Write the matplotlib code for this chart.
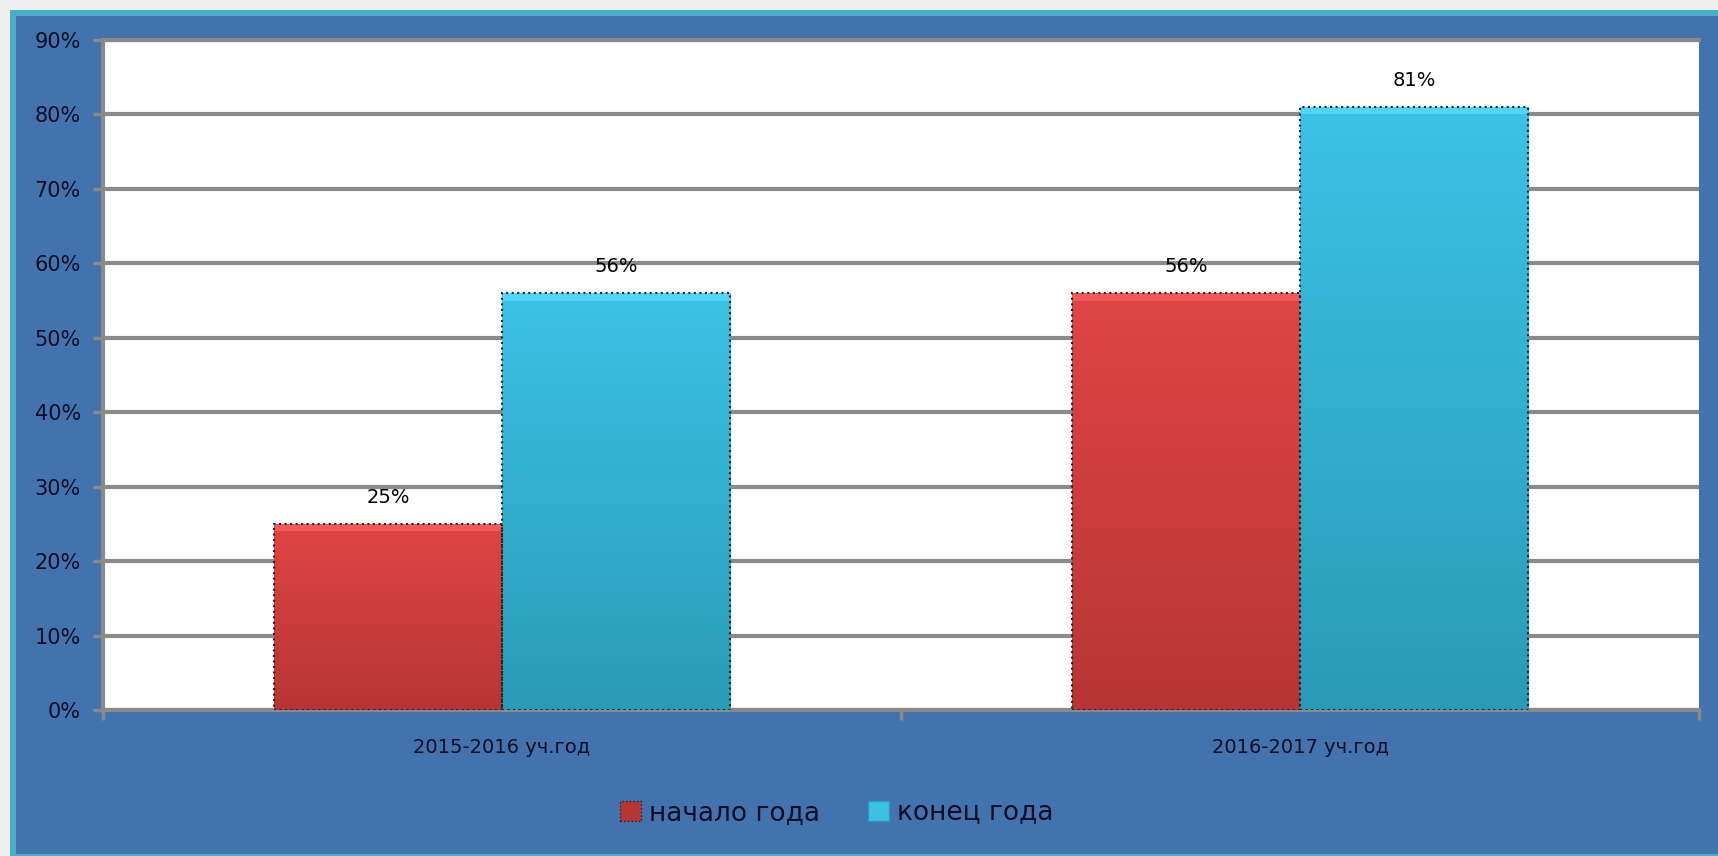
import matplotlib.pyplot as plt
import matplotlib.patches as mpatches
import matplotlib.colors as mcolors
import numpy as np

# --- data ---
categories = ['2015-2016 уч.год', '2016-2017 уч.год']
series_names = ['начало года', 'конец года']
start_year = [25, 56]
end_year = [56, 81]
y_ticks = [0, 10, 20, 30, 40, 50, 60, 70, 80, 90]

# colours (top, bottom) for the gradient fill
red_top, red_bot = '#e04544', '#b73535'
cyan_top, cyan_bot = '#3bc2e6', '#2a9bb6'
panel_blue = '#4373ae'
teal = '#4aaecb'
grid_gray = '#8a8a8a'
text_col = '#0d0d24'

fig = plt.figure(figsize=(17.18, 8.56), dpi=100)
fig.patch.set_facecolor('#efefef')

# blue panel with teal border (top/left), drawn behind the axes
fig.patches.append(mpatches.Rectangle((10 / 1718, 0), 1.0, 1 - 10 / 856,
                                      transform=fig.transFigure, facecolor=teal,
                                      edgecolor='none', zorder=-10))
fig.patches.append(mpatches.Rectangle((16 / 1718, 2 / 856), 1.0, 1 - 18 / 856,
                                      transform=fig.transFigure, facecolor=panel_blue,
                                      edgecolor='none', zorder=-9))

ax = fig.add_axes([103 / 1718, 1 - 710 / 856, (1699 - 103) / 1718, (710 - 40) / 856])
ax.set_facecolor('white')

x = np.arange(len(categories))
w = 0.286

bars1 = ax.bar(x - w / 2, start_year, w, color=red_bot, edgecolor='none',
               zorder=3, label=series_names[0])
bars2 = ax.bar(x + w / 2, end_year, w, color=cyan_bot, edgecolor='none',
               zorder=3, label=series_names[1])

# vertical gradient inside each bar, with a lighter bevel at the top
def shade(bars, c_top, c_bot):
    cmap = mcolors.LinearSegmentedColormap.from_list('g', [c_bot, c_top])
    grad = np.linspace(0, 1, 256).reshape(-1, 1)
    light = mcolors.to_rgb(c_top)
    light = tuple(min(1, c + 0.08) for c in light)
    for b in bars:
        x0, y0 = b.get_x(), b.get_y()
        im = ax.imshow(grad, cmap=cmap, aspect='auto', origin='lower',
                       extent=[x0, x0 + b.get_width(), y0, y0 + b.get_height()],
                       zorder=3.5)
        im.set_clip_path(b)
        ax.add_patch(mpatches.Rectangle((x0, y0 + b.get_height() - 1.0), b.get_width(), 1.0,
                                        facecolor=light, edgecolor='none', zorder=3.7))

shade(bars1, red_top, red_bot)
shade(bars2, cyan_top, cyan_bot)

# dotted edges on top
for b in list(bars1) + list(bars2):
    ax.add_patch(mpatches.Rectangle((b.get_x(), b.get_y()), b.get_width(), b.get_height(),
                                    fill=False, edgecolor='#222222', linestyle=':',
                                    linewidth=1.5, zorder=4))

for bars, vals in [(bars1, start_year), (bars2, end_year)]:
    for b, v in zip(bars, vals):
        ax.annotate(f'{v}%', (b.get_x() + b.get_width() / 2, v),
                    xytext=(0, 12), textcoords='offset points',
                    ha='center', va='bottom', fontsize=14, color='black')

ax.set_xlim(-0.5, 1.5)
ax.set_ylim(0, 90)
ax.set_yticks(y_ticks)
ax.set_yticklabels([f'{t}%' for t in y_ticks], fontsize=15, color=text_col)
ax.yaxis.grid(True, color=grid_gray, linewidth=3, zorder=0)
ax.set_axisbelow(True)

ax.set_xticks(x)
ax.set_xticklabels(categories, fontsize=14, color=text_col)
ax.set_xticks([-0.5, 0.5, 1.5], minor=True)
ax.tick_params(axis='x', which='major', length=0, pad=20)
ax.tick_params(axis='x', which='minor', length=7, width=2.5, color=grid_gray)
ax.tick_params(axis='y', length=7, width=2.5, color=grid_gray, pad=9)

for s in ['left', 'bottom', 'top']:
    ax.spines[s].set_color(grid_gray)
    ax.spines[s].set_linewidth(3)
ax.spines['right'].set_visible(False)

handles = [mpatches.Patch(facecolor=red_bot, edgecolor='#222222', linestyle=':'),
           mpatches.Patch(facecolor=cyan_top, edgecolor=cyan_bot)]
fig.legend(handles, series_names, loc='center', bbox_to_anchor=(0.487, 1 - 813 / 856),
           ncol=2, frameon=False, fontsize=19, handlelength=0.8, handleheight=0.8,
           handletextpad=0.3, columnspacing=1.8, labelcolor=text_col)

fig.savefig('out.png', dpi=100, facecolor=fig.get_facecolor())
